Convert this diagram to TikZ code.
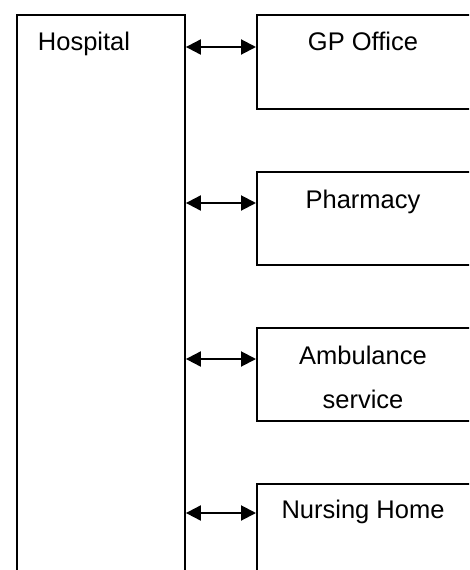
\documentclass[tikz,border=0pt]{standalone}
\usepackage{fontspec}
\setmainfont{Liberation Sans}
\usetikzlibrary{arrows.meta}
\begin{document}
\begin{tikzpicture}[x=1pt,y=-1pt,
  box/.style={draw=black,line width=1.9pt,rectangle,inner sep=0pt,anchor=north west},
  lbl/.style={anchor=base,inner sep=0pt,font=\fontsize{25.5}{30}\selectfont},
  tip/.style={Triangle[length=15pt,width=15pt]},
  link/.style={line width=2pt,{Triangle[length=15pt,width=15pt]}-{Triangle[length=15pt,width=15pt]}}]
  \useasboundingbox (0,0) rectangle (469,570);
  \clip (0,0) rectangle (469,570);
  % main column and the four services (open towards the page edges)
  \node[box,minimum width=168pt,minimum height=600pt] (hosp) at (16,14) {};
  \node[box,minimum width=230pt,minimum height=94pt] (gp) at (256,14) {};
  \node[box,minimum width=230pt,minimum height=93pt] (ph) at (256,171) {};
  \node[box,minimum width=230pt,minimum height=93pt] (amb) at (256,327) {};
  \node[box,minimum width=230pt,minimum height=120pt] (nh) at (256,483) {};
  % labels
  \node[lbl] (thosp) at (84,50) {Hospital};
  \node[lbl] (tgp) at (363,50) {GP Office};
  \node[lbl] (tph) at (363,208) {Pharmacy};
  \node[lbl] (tamb1) at (363,364) {Ambulance};
  \node[lbl] (tamb2) at (363,408) {service};
  \node[lbl] (tnh) at (363,518) {Nursing Home};
  % two-way links
  \draw[link] (hosp.east |- 0,47) -- (gp.west |- 0,47);
  \draw[link] (hosp.east |- 0,203) -- (ph.west |- 0,203);
  \draw[link] (hosp.east |- 0,359) -- (amb.west |- 0,359);
  \draw[link] (hosp.east |- 0,513) -- (nh.west |- 0,513);
\end{tikzpicture}
\end{document}
